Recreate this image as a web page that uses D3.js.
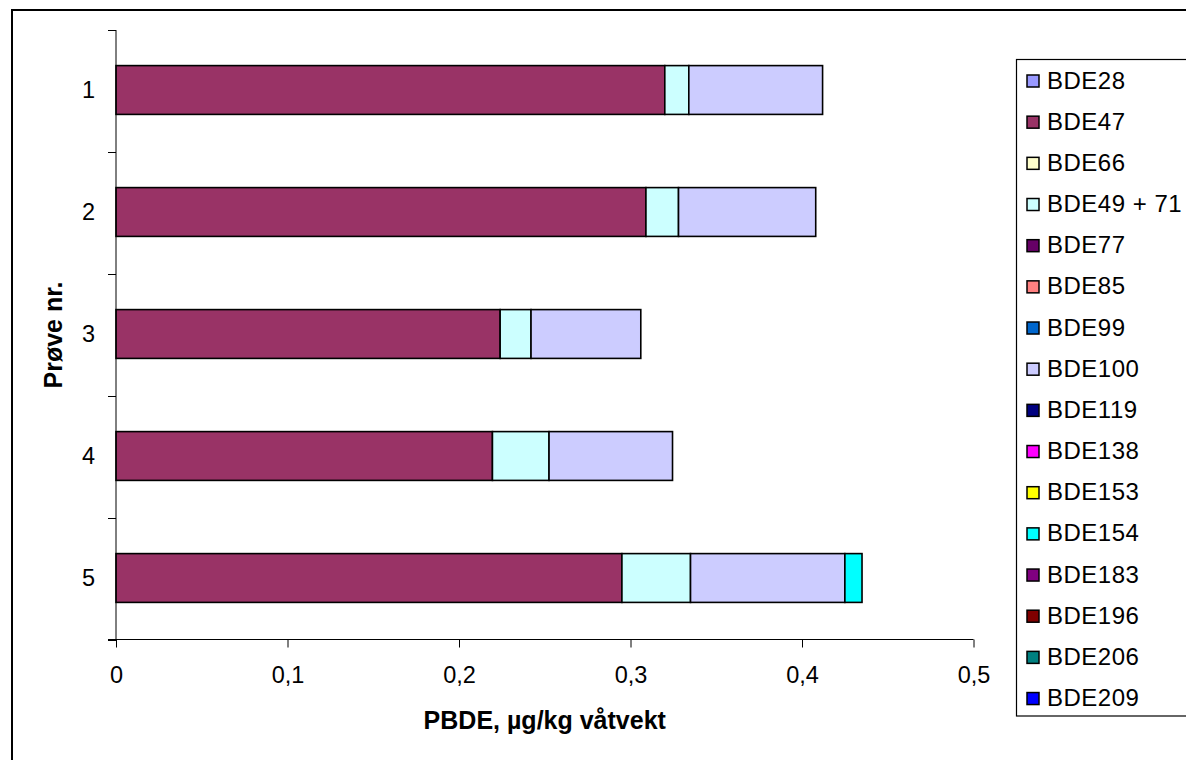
<!DOCTYPE html>
<html><head><meta charset="utf-8">
<script src="https://cdn.jsdelivr.net/npm/d3@7"></script>
<style>body{margin:0;background:#fff}svg{display:block}text{font-family:"Liberation Sans",Arial,sans-serif}</style>
</head><body>
<svg id="c" width="1186" height="760"></svg>
<script>
const categories = ["1","2","3","4","5"];
const seriesNames = ["BDE28","BDE47","BDE66","BDE49 + 71","BDE77","BDE85","BDE99","BDE100","BDE119","BDE138","BDE153","BDE154","BDE183","BDE196","BDE206","BDE209"];
const seriesColors = ["#9999FF","#993366","#FFFFCC","#CCFFFF","#660066","#FF8080","#0066CC","#CCCCFF","#000080","#FF00FF","#FFFF00","#00FFFF","#800080","#800000","#008080","#0000FF"];
const BDE28  = [0,0,0,0,0];
const BDE47  = [0.320,0.309,0.224,0.2195,0.295];
const BDE66  = [0,0,0,0,0];
const BDE4971= [0.014,0.019,0.018,0.033,0.040];
const BDE77  = [0,0,0,0,0];
const BDE85  = [0,0,0,0,0];
const BDE99  = [0,0,0,0,0];
const BDE100 = [0.078,0.080,0.064,0.072,0.090];
const BDE119 = [0,0,0,0,0];
const BDE138 = [0,0,0,0,0];
const BDE153 = [0,0,0,0,0];
const BDE154 = [0,0,0,0,0.010];
const BDE183 = [0,0,0,0,0];
const BDE196 = [0,0,0,0,0];
const BDE206 = [0,0,0,0,0];
const BDE209 = [0,0,0,0,0];
const xTicks = [0,0.1,0.2,0.3,0.4,0.5];
const xTitle = "PBDE, µg/kg våtvekt";
const yTitle = "Prøve nr.";

const seriesValues = [BDE28,BDE47,BDE66,BDE4971,BDE77,BDE85,BDE99,BDE100,BDE119,BDE138,BDE153,BDE154,BDE183,BDE196,BDE206,BDE209];
const table = categories.map((c,i)=>{const o={cat:c}; seriesNames.forEach((s,j)=>o[s]=seriesValues[j][i]); return o;});

const svg = d3.select("#c");
// outer frame
svg.append("rect").attr("x",12).attr("y",10).attr("width",1190).attr("height",770)
  .attr("fill","#fff").attr("stroke","#000").attr("stroke-width",2);

const L=116, R=973.5, T=30, B=640;
const x = d3.scaleLinear().domain([0,0.5]).range([L,R]);
const y = d3.scaleBand().domain(categories).range([T,B]).padding(0);
const bh = y.bandwidth()*0.4;

const stack = d3.stack().keys(seriesNames)(table);
const g = svg.append("g");
stack.forEach((layer,j)=>{
  g.selectAll(null).data(layer.filter(d=>d[1]-d[0]>0)).enter().append("rect")
    .attr("x",d=>x(d[0])).attr("width",d=>x(d[1])-x(d[0]))
    .attr("y",d=>y(d.data.cat)+y.bandwidth()/2-bh/2-1).attr("height",bh)
    .attr("fill",seriesColors[j]).attr("stroke","#000").attr("stroke-width",1.6);
});

// y axis
const ya = svg.append("g").attr("transform",`translate(${L},0)`);
ya.append("line").attr("x1",0).attr("x2",0).attr("y1",T).attr("y2",B).attr("stroke","#000");
const bounds = categories.map(c=>y(c)).concat([B]);
ya.selectAll(null).data(bounds).enter().append("line")
  .attr("x1",-8).attr("x2",0).attr("y1",d=>Math.round(d)+0.5).attr("y2",d=>Math.round(d)+0.5).attr("stroke","#000");
ya.selectAll(null).data(categories).enter().append("text")
  .attr("x",-21).attr("y",c=>y(c)+y.bandwidth()/2+7).attr("text-anchor","end")
  .attr("font-size",23.5).text(c=>c);

// x axis
const xa = svg.append("g").attr("transform",`translate(0,${B-0.5})`)
  .call(d3.axisBottom(x).tickValues(xTicks).tickSize(8).tickPadding(19)
    .tickFormat(d=>d===0?"0":String(d).replace(".",",")));
xa.select(".domain").remove();
xa.append("line").attr("x1",L-8).attr("x2",R).attr("y1",0).attr("y2",0).attr("stroke","#000");
xa.selectAll(".tick line").attr("stroke","#000");
xa.selectAll(".tick text").attr("font-size",23.5).attr("fill","#000").attr("font-family","Liberation Sans, Arial, sans-serif");

svg.append("text").attr("x",(L+R)/2).attr("y",729).attr("text-anchor","middle")
  .attr("font-size",25).attr("font-weight","bold").text(xTitle);
svg.append("text").attr("transform",`translate(62,${(T+B)/2}) rotate(-90)`).attr("text-anchor","middle")
  .attr("font-size",25).attr("font-weight","bold").text(yTitle);

// legend
const lg = svg.append("g");
lg.append("rect").attr("x",1016.5).attr("y",59.5).attr("width",200).attr("height",656.5)
  .attr("fill","#fff").attr("stroke","#000").attr("stroke-width",1.2);
seriesNames.forEach((s,i)=>{
  const cy = 80 + i*41.17;
  lg.append("rect").attr("x",1027).attr("y",cy-5).attr("width",12).attr("height",12)
    .attr("fill",seriesColors[i]).attr("stroke","#000").attr("stroke-width",1.5);
  lg.append("text").attr("x",1047).attr("y",cy+8.5).attr("font-size",24).attr("letter-spacing",0.5).text(s);
});
</script>
</body></html>
